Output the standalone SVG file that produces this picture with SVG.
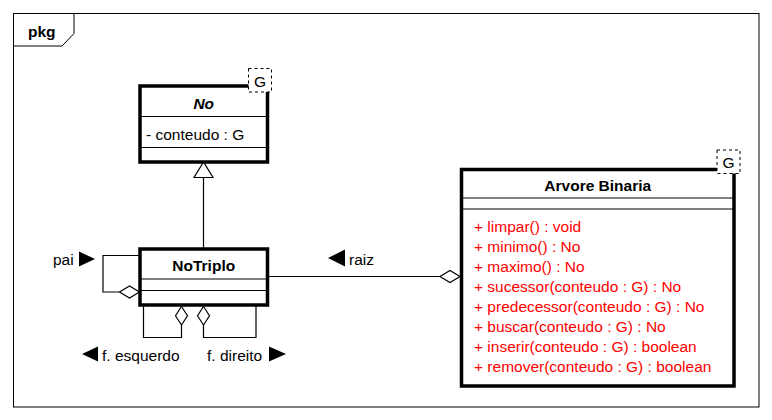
<svg xmlns="http://www.w3.org/2000/svg" width="772" height="420" viewBox="0 0 772 420">
<style>
text{font-family:"Liberation Sans",Arial,sans-serif;font-size:15.5px;fill:#000}
.b{font-weight:bold}
.m{fill:#ff0000}
.box{fill:#fff;stroke:#000;stroke-width:3.5}
.div{stroke:#000;stroke-width:1;fill:none}
.tpl{fill:#fff;stroke:#000;stroke-width:1;stroke-dasharray:3 3}
.ln{fill:none;stroke:#000;stroke-width:1.2}
.dia{fill:#fff;stroke:#000;stroke-width:1.2}
</style>
<rect x="0" y="0" width="772" height="420" fill="#fff"/>
<g id="frame">
<rect x="13.5" y="13.5" width="745.5" height="393.5" fill="none" stroke="#000" stroke-width="1"/>
<path d="M13.5,46 L62,46 L74,33.5 L74,13.5" fill="none" stroke="#000" stroke-width="1"/>
<text x="28" y="37" class="b">pkg</text>
</g>
<g id="connectors">
<line class="ln" x1="203.5" y1="177" x2="203.5" y2="249"/>
<path d="M203.5,162 L194,177.5 L213,177.5 Z" fill="#fff" stroke="#000" stroke-width="1.2"/>
<path class="ln" d="M140,255.5 L103,255.5 L103,292 L119,292"/>
<path class="dia" d="M139.5,292 L129.5,286 L119.5,292 L129.5,298 Z"/>
<path class="ln" d="M143.5,306 L143.5,337.5 L181.5,337.5 L181.5,325"/>
<path class="dia" d="M181.5,306.5 L175.5,315.75 L181.5,325 L187.5,315.75 Z"/>
<path class="ln" d="M256,306 L256,337.5 L203.5,337.5 L203.5,325"/>
<path class="dia" d="M203.5,306.5 L197.5,315.75 L203.5,325 L209.5,315.75 Z"/>
<line class="ln" x1="268" y1="276.5" x2="440" y2="276.5"/>
<path class="dia" d="M460,276.5 L450,270.5 L440,276.5 L450,282.5 Z"/>
<text x="53" y="265">pai</text>
<path d="M79,251.5 L95,259 L79,266.5 Z" fill="#000"/>
<path d="M98,346.5 L82,354 L98,361.5 Z" fill="#000"/>
<text x="102" y="361">f. esquerdo</text>
<text x="207" y="361">f. direito</text>
<path d="M269,346.5 L286,354 L269,361.5 Z" fill="#000"/>
<path d="M345,249.5 L328,258 L345,266.5 Z" fill="#000"/>
<text x="349" y="265">raiz</text>
</g>
<g id="No">
<rect class="box" x="140" y="86" width="127.5" height="76"/>
<line class="div" x1="140" y1="116.5" x2="267.5" y2="116.5"/>
<line class="div" x1="140" y1="147.5" x2="267.5" y2="147.5"/>
<text x="203.75" y="108.5" class="b" font-style="italic" text-anchor="middle">No</text>
<text x="146" y="140">- conteudo : G</text>
<rect class="tpl" x="248.5" y="68.5" width="23" height="23.5"/>
<text x="260" y="87" text-anchor="middle">G</text>
</g>
<g id="NoTriplo">
<rect class="box" x="140" y="249" width="127.5" height="56"/>
<line class="div" x1="140" y1="279" x2="267.5" y2="279"/>
<line class="div" x1="140" y1="290.5" x2="267.5" y2="290.5"/>
<text x="203.75" y="271" class="b" text-anchor="middle">NoTriplo</text>
</g>
<g id="ArvoreBinaria">
<rect class="box" x="461.5" y="169.5" width="272.5" height="216.5"/>
<line class="div" x1="461.5" y1="198" x2="734" y2="198"/>
<line class="div" x1="461.5" y1="209" x2="734" y2="209"/>
<text x="597.75" y="190.5" class="b" text-anchor="middle">Arvore Binaria</text>
<text x="474" y="232" class="m">+ limpar() : void</text>
<text x="474" y="252" class="m">+ minimo() : No</text>
<text x="474" y="272" class="m">+ maximo() : No</text>
<text x="474" y="292" class="m">+ sucessor(conteudo : G) : No</text>
<text x="474" y="312" class="m">+ predecessor(conteudo : G) : No</text>
<text x="474" y="332" class="m">+ buscar(conteudo : G) : No</text>
<text x="474" y="352" class="m">+ inserir(conteudo : G) : boolean</text>
<text x="474" y="372" class="m">+ remover(conteudo : G) : boolean</text>
<rect class="tpl" x="717" y="150" width="23" height="23.5"/>
<text x="728.5" y="168" text-anchor="middle">G</text>
</g>
</svg>
